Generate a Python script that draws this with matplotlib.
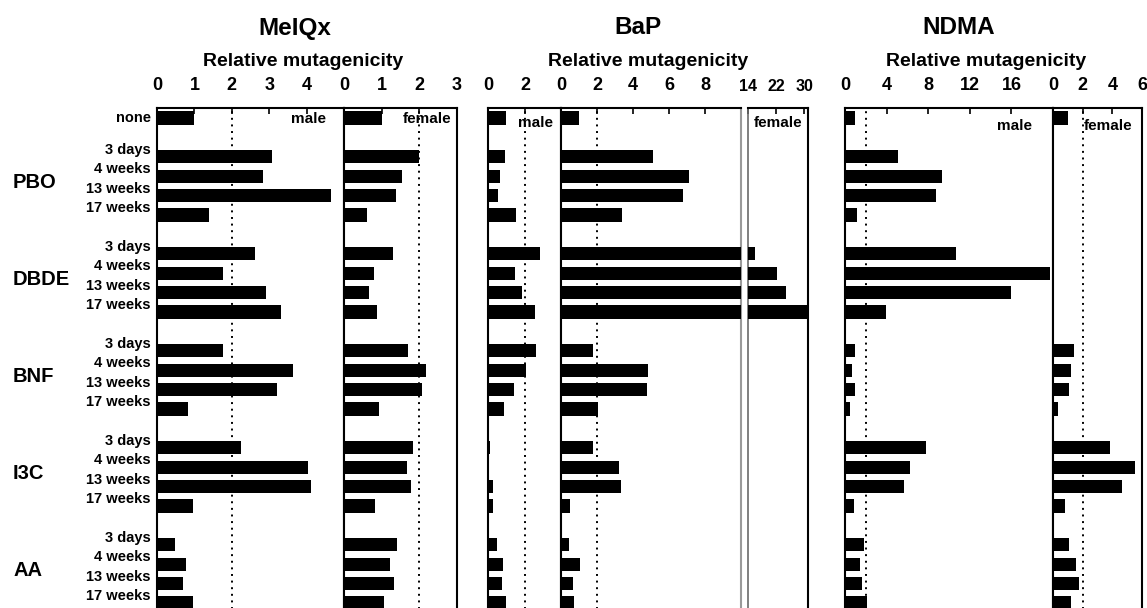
import numpy as np
import matplotlib
matplotlib.use("Agg")
import matplotlib.pyplot as plt

plt.rcParams['font.family'] = ['Liberation Sans', 'DejaVu Sans']
plt.rcParams['font.weight'] = 'bold'

# ---------------------------------------------------------------
# DATA  (relative mutagenicity)
# ---------------------------------------------------------------
groups = ["PBO", "DBDE", "BNF", "I3C", "AA"]
times = ["3 days", "4 weeks", "13 weeks", "17 weeks"]

# control ("none") value is 1 for every panel
none_value = 1.0

# each list: PBO(4), DBDE(4), BNF(4), I3C(4), AA(4)
meiqx_male = [3.07, 2.84, 4.64, 1.39,
              2.61, 1.77, 2.92, 3.31,
              1.77, 3.64, 3.21, 0.82,
              2.25, 4.05, 4.13, 0.97,
              0.48, 0.78, 0.70, 0.97]
meiqx_female = [2.00, 1.54, 1.37, 0.60,
                1.29, 0.80, 0.67, 0.87,
                1.71, 2.17, 2.06, 0.94,
                1.83, 1.68, 1.78, 0.82,
                1.40, 1.22, 1.32, 1.06]
bap_male = [0.92, 0.65, 0.56, 1.51,
            2.81, 1.46, 1.82, 2.52,
            2.58, 2.05, 1.41, 0.86,
            0.10, 0.07, 0.29, 0.25,
            0.50, 0.83, 0.74, 0.97]
bap_female = [5.09, 7.09, 6.80, 3.41,
              16.0, 22.4, 24.9, 32.0,
              1.80, 4.82, 4.76, 2.04,
              1.80, 3.22, 3.32, 0.50,
              0.44, 1.04, 0.67, 0.72]
ndma_male = [5.10, 9.32, 8.78, 1.18,
             10.7, 19.7, 16.0, 3.93,
             0.96, 0.70, 0.96, 0.48,
             7.79, 6.29, 5.68, 0.86,
             1.82, 1.44, 1.66, 2.14]
ndma_female = [np.nan, np.nan, np.nan, np.nan,
               np.nan, np.nan, np.nan, np.nan,
               1.40, 1.18, 1.09, 0.36,
               3.83, 5.52, 4.62, 0.84,
               1.09, 1.58, 1.74, 1.24]

# ---------------------------------------------------------------
# LAYOUT
# ---------------------------------------------------------------
W, H = 1147, 608
fig = plt.figure(figsize=(W / 100, H / 100), dpi=100)

Y_TOP, Y_BOT = 108.3, 612.7          # pixel rows of the panels
YLIM = (25.5, -0.5)
BAR_H = 0.68


def fx(px):
    return px / W


def fy(py):
    return 1 - py / H


def add_panel(x0, x1, xlim, ticks, tick_labels):
    ax = fig.add_axes([fx(x0), fy(Y_BOT), fx(x1 - x0), (Y_BOT - Y_TOP) / H])
    ax.set_xlim(*xlim)
    ax.set_ylim(*YLIM)
    ax.set_yticks([])
    ax.xaxis.tick_top()
    ax.set_xticks(ticks)
    ax.set_xticklabels(tick_labels)
    ax.tick_params(axis='x', direction='in', length=4, width=1.2,
                   pad=10, labelsize=13, top=True, bottom=False)
    for s in ax.spines.values():
        s.set_linewidth(1.5)
    return ax


# bar positions: "none" in slot 0, then groups of 4 separated by a blank slot
pos_none = 0
positions = []
for g in range(len(groups)):
    for r in range(len(times)):
        positions.append(2 + 5 * g + r)
positions = np.array(positions)


def draw_bars(ax, values, ref=True):
    ax.barh([pos_none], [none_value], height=BAR_H, color='black', zorder=3)
    ax.barh(positions, values, height=BAR_H, color='black', zorder=3)
    if ref:
        ax.axvline(2, color='black', linestyle=(0, (1, 2.4)), lw=1.4, zorder=1)


# MeIQx
ax = add_panel(157, 344, (0, 5), [0, 1, 2, 3, 4], ["0", "1", "2", "3", "4"])
draw_bars(ax, meiqx_male)
ax.text(4.53, 0.05, "male", ha='right', va='center', fontsize=11)

ax = add_panel(344, 457, (0, 3), [0, 1, 2, 3], ["0", "1", "2", "3"])
draw_bars(ax, meiqx_female)
ax.text(2.84, 0.05, "female", ha='right', va='center', fontsize=11)

# BaP
ax = add_panel(488, 561, (0, 3.95), [0, 2], ["0", "2"])
draw_bars(ax, bap_male)
ax.text(1.65, 0.25, "male", ha='left', va='center', fontsize=11)

ax = add_panel(561, 741, (0, 10), [0, 2, 4, 6, 8, 10], ["0", "2", "4", "6", "8", ""])
draw_bars(ax, bap_female)
ax.spines['right'].set_color('#9a9a9a')

ax = add_panel(748, 808, (14, 31.1), [14, 22, 30], ["14", "22", "30"])
draw_bars(ax, bap_female, ref=False)
ax.spines['left'].set_color('#6a6a6a')
ax.spines['left'].set_linewidth(1.2)
ax.tick_params(axis='x', labelsize=11.5)
ax.text(29.4, 0.25, "female", ha='right', va='center', fontsize=11)

# NDMA
ax = add_panel(845, 1053, (0, 20), [0, 4, 8, 12, 16], ["0", "4", "8", "12", "16"])
draw_bars(ax, ndma_male)
ax.text(18.0, 0.4, "male", ha='right', va='center', fontsize=11)

ax = add_panel(1053, 1142, (0, 6), [0, 2, 4, 6], ["0", "2", "4", "6"])
draw_bars(ax, ndma_female)
ax.text(5.35, 0.4, "female", ha='right', va='center', fontsize=11)

# ---------------------------------------------------------------
# TEXT: titles, axis captions, row and group labels
# ---------------------------------------------------------------
for name, xt, xr in [("MeIQx", 295, 303), ("BaP", 638, 648), ("NDMA", 959, 986)]:
    fig.text(fx(xt), fy(28), name, ha='center', va='center', fontsize=17.5)
    fig.text(fx(xr), fy(62), "Relative mutagenicity", ha='center', va='center',
             fontsize=14)

slot_px = (Y_BOT - Y_TOP) / (YLIM[0] - YLIM[1])


def slot_y(s):
    return Y_TOP + (s - YLIM[1]) * slot_px


fig.text(fx(151), fy(slot_y(pos_none)), "none", ha='right', va='center', fontsize=10.5)
for i, p in enumerate(positions):
    fig.text(fx(151), fy(slot_y(p - 0.36)), times[i % 4], ha='right', va='center',
             fontsize=10.5)
for g, name in enumerate(groups):
    fig.text(fx(13), fy(slot_y(2 + 5 * g + 1.3)), name, ha='left', va='center',
             fontsize=14.5)

fig.savefig("out.png", dpi=100)
